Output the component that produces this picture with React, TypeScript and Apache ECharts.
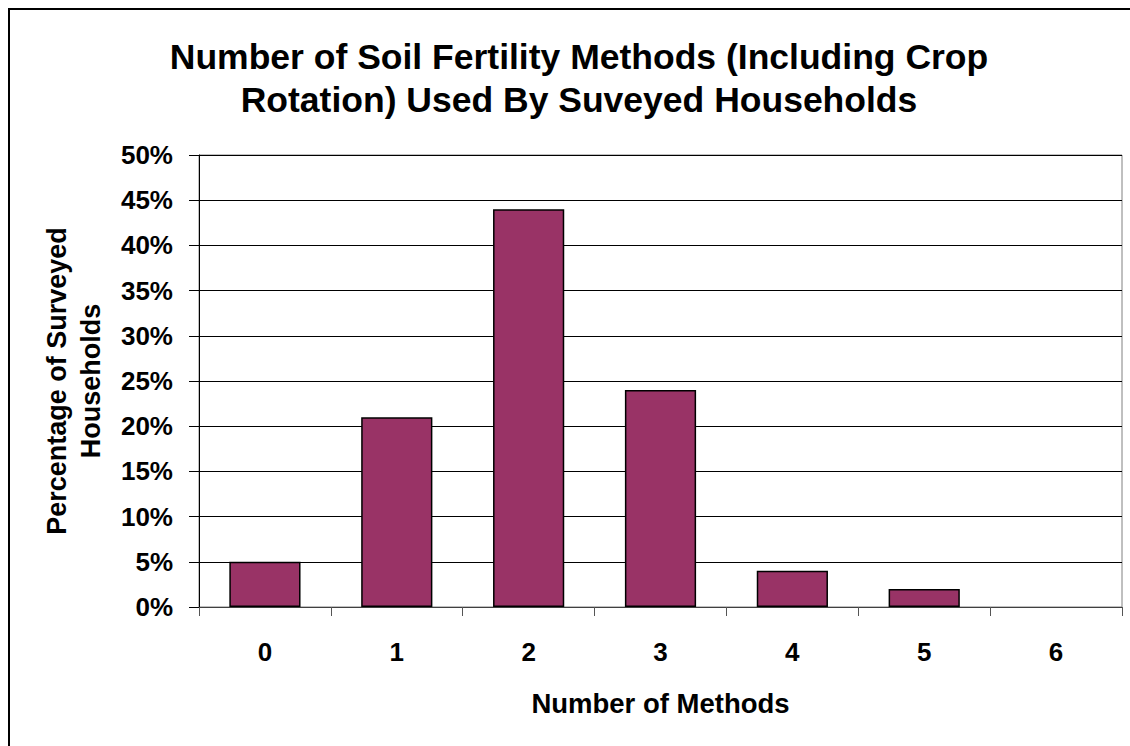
import React, { useEffect, useRef } from "react";
import * as echarts from "echarts";

const categories = ["0", "1", "2", "3", "4", "5", "6"];
const percentValues = [5, 21, 44, 24, 4, 2, 0];
const yMin = 0;
const yMax = 50;
const yInterval = 5;
const titleText = "Number of Soil Fertility Methods (Including Crop\nRotation) Used By Suveyed Households";
const xAxisTitle = "Number of Methods";
const yAxisTitle = "Percentage of Surveyed\nHouseholds";

const FONT = 'Arial, "Liberation Sans", sans-serif';

export default function App() {
  const ref = useRef<HTMLDivElement>(null);
  useEffect(() => {
    const chart = echarts.init(ref.current as HTMLDivElement, null, { renderer: "svg" });
    chart.setOption({
      animation: false,
      backgroundColor: "#ffffff",
      title: {
        text: titleText,
        left: 574,
        top: 30,
        textAlign: "center",
        textStyle: {
          fontFamily: FONT,
          fontWeight: "bold",
          fontSize: 35.5,
          lineHeight: 43,
          color: "#000",
        },
      },
      graphic: [
        {
          type: "rect",
          shape: { x: 9, y: 9, width: 1140, height: 760 },
          style: { fill: "none", stroke: "#000", lineWidth: 2 },
          silent: true,
        },
      ],
      grid: {
        left: 199,
        right: 8,
        top: 155,
        bottom: 139,
        show: true,
        borderColor: "#808080",
        borderWidth: 1,
        backgroundColor: "transparent",
      },
      xAxis: {
        type: "category",
        data: categories,
        name: xAxisTitle,
        nameLocation: "middle",
        nameGap: 80,
        nameTextStyle: {
          fontFamily: FONT,
          fontWeight: "bold",
          fontSize: 27.5,
          lineHeight: 32,
          color: "#000",
        },
        axisLine: { show: true, lineStyle: { color: "#404040", width: 1 } },
        axisTick: { show: true, length: 9, lineStyle: { color: "#555", width: 1 } },
        axisLabel: {
          margin: 32,
          fontFamily: FONT,
          fontWeight: "bold",
          fontSize: 26,
          lineHeight: 26,
          color: "#000",
        },
        splitLine: { show: false },
      },
      yAxis: {
        type: "value",
        min: yMin,
        max: yMax,
        interval: yInterval,
        name: yAxisTitle,
        nameLocation: "middle",
        nameRotate: 90,
        nameGap: 125,
        nameTextStyle: {
          fontFamily: FONT,
          fontWeight: "bold",
          fontSize: 27,
          lineHeight: 34,
          color: "#000",
          align: "center",
          verticalAlign: "middle",
        },
        axisLine: { show: true, lineStyle: { color: "#000", width: 1 } },
        axisTick: { show: true, length: 10, lineStyle: { color: "#000", width: 1 } },
        axisLabel: {
          margin: 26,
          fontFamily: FONT,
          fontWeight: "bold",
          fontSize: 26,
          color: "#000",
          formatter: (v: number) => `${v}%`,
        },
        splitLine: { show: true, lineStyle: { color: "#000", width: 1 } },
      },
      series: [
        {
          type: "bar",
          data: percentValues.map((v) =>
            v === 0 ? { value: v, itemStyle: { borderWidth: 0 } } : v
          ),
          barWidth: "54%",
          itemStyle: { color: "#993366", borderColor: "#000", borderWidth: 1.5 },
        },
      ],
    });
    return () => chart.dispose();
  }, []);
  return (
    <div
      style={{ position: "fixed", left: 0, top: 0, width: 1130, height: 746, background: "#fff" }}
    >
      <div ref={ref} style={{ width: 1130, height: 746 }} />
    </div>
  );
}
